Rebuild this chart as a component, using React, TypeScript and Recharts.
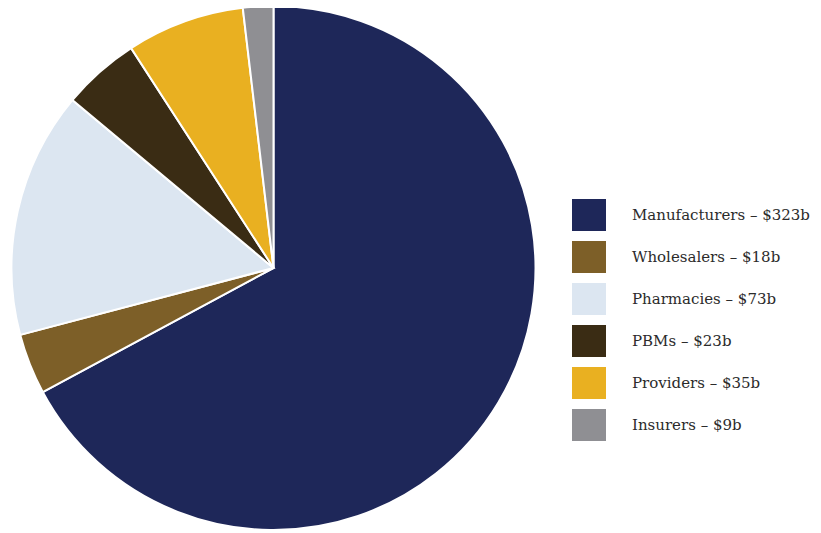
import React from "react";
import { PieChart, Pie, Cell, Legend } from "recharts";

const categories = ["Manufacturers", "Wholesalers", "Pharmacies", "PBMs", "Providers", "Insurers"];
const values = [323, 18, 73, 23, 35, 9];
const colors = ["#1e2759", "#7d5f28", "#dce6f1", "#3a2c14", "#e9b021", "#8f8f93"];

const data = categories.map((name, i) => ({ name, value: values[i] }));

const renderLegend = () => (
  <div style={{ fontFamily: "'DejaVu Serif', serif" }}>
    {data.map((d, i) => (
      <div key={d.name} style={{ display: "flex", alignItems: "center", height: 42 }}>
        <div style={{ width: 34, height: 32, background: colors[i], marginRight: 26, flexShrink: 0 }} />
        <span style={{ fontSize: 15, color: "#2b2b2b", whiteSpace: "nowrap" }}>
          {d.name} – ${d.value}b
        </span>
      </div>
    ))}
  </div>
);

export default function App() {
  return (
    <div style={{ margin: "-8px 0 0 -8px", width: 821, height: 533, background: "#fff" }}>
      <PieChart width={821} height={533} margin={{ top: 0, right: 0, bottom: 0, left: 0 }}>
        <Pie
          data={data}
          dataKey="value"
          nameKey="name"
          cx={273.5}
          cy={268}
          outerRadius={262}
          startAngle={90}
          endAngle={-270}
          stroke="#fff"
          strokeWidth={2}
          isAnimationActive={false}
        >
          {data.map((d, i) => (
            <Cell key={d.name} fill={colors[i]} />
          ))}
        </Pie>
        <Legend
          content={renderLegend}
          wrapperStyle={{ left: 572, top: 194, width: 245 }}
        />
      </PieChart>
    </div>
  );
}
